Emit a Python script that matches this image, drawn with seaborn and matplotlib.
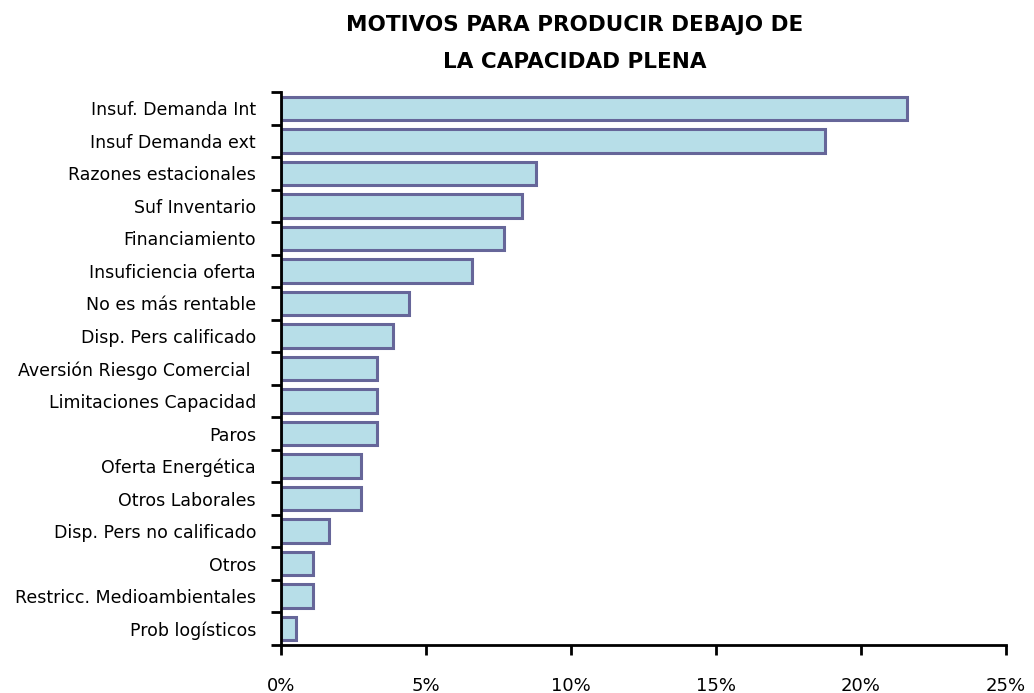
import matplotlib
matplotlib.use("Agg")
import matplotlib.pyplot as plt
import seaborn as sns
import pandas as pd
import numpy as np
from matplotlib.ticker import FixedLocator

categories = [
    "Insuf. Demanda Int", "Insuf Demanda ext", "Razones estacionales", "Suf Inventario",
    "Financiamiento", "Insuficiencia oferta", "No es más rentable", "Disp. Pers calificado",
    "Aversión Riesgo Comercial ", "Limitaciones Capacidad", "Paros", "Oferta Energética",
    "Otros Laborales", "Disp. Pers no calificado", "Otros", "Restricc. Medioambientales",
    "Prob logísticos",
]
values = [21.6, 18.75, 8.8, 8.3, 7.7, 6.6, 4.4, 3.85, 3.3, 3.3, 3.3, 2.75, 2.75, 1.65, 1.1, 1.1, 0.5]
xticks = [0, 5, 10, 15, 20, 25]
xticklabels = ["0%", "5%", "10%", "15%", "20%", "25%"]

sns.set_theme(style="white")
plt.rcParams['font.family'] = ['DejaVu Sans']
plt.rcParams['text.color'] = 'black'
plt.rcParams['xtick.color'] = 'black'
plt.rcParams['ytick.color'] = 'black'

df = pd.DataFrame({"motivo": categories, "valor": values})

fig = plt.figure(figsize=(10.34, 6.93), dpi=100)
ax = fig.add_axes([281/1034, 1 - 645/693, (1006-281)/1034, (645-92)/693])

sns.barplot(data=df, y="motivo", x="valor", orient="h", color="#B7DEE8",
            edgecolor="#666699", linewidth=2.2, width=0.72, saturation=1, ax=ax)

ax.set_xlim(0, 25)
ax.set_ylim(len(categories) - 0.5, -0.5)
ax.set_xticks(xticks)
ax.set_xticklabels(xticklabels, fontsize=13, color="black")
ax.set_xlabel("")
ax.set_ylabel("")
for lbl in ax.get_yticklabels():
    lbl.set_color("black")
ax.tick_params(axis="y", which="major", length=0, labelsize=12.5, pad=18, labelcolor="black")
ax.yaxis.set_minor_locator(FixedLocator(np.arange(-0.5, len(categories), 1.0)))
ax.tick_params(axis="y", which="minor", length=7, width=2, color="black", left=True)
ax.tick_params(axis="x", which="major", length=7, width=2, color="black", bottom=True, pad=16,
               labelcolor="black")

for s in ["top", "right"]:
    ax.spines[s].set_visible(False)
for s in ["left", "bottom"]:
    ax.spines[s].set_color("black")
    ax.spines[s].set_linewidth(2)

fig.text(575/1034, 1 - 25/693, "MOTIVOS PARA PRODUCIR DEBAJO DE", ha="center", va="center",
         fontsize=15.5, fontweight="bold", color="black")
fig.text(575/1034, 1 - 62/693, "LA CAPACIDAD PLENA", ha="center", va="center",
         fontsize=15.5, fontweight="bold", color="black")

fig.savefig("out.png", dpi=100)
